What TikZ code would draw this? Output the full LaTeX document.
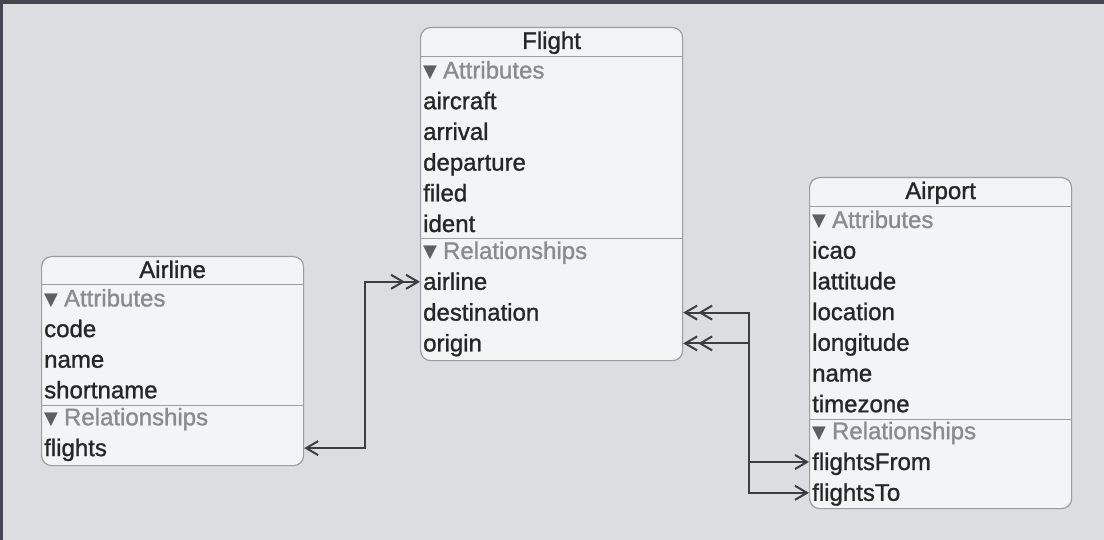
\documentclass[tikz,border=0pt]{standalone}
\usepackage{fontspec}
\setmainfont{Liberation Sans}[FakeBold=1.1]
\newfontfamily\symfont{DejaVu Sans}
\usetikzlibrary{arrows.meta,positioning,calc}

\definecolor{canvas}{HTML}{DCDDE1}
\definecolor{frame}{HTML}{43464E}
\definecolor{boxfill}{HTML}{F3F4F6}
\definecolor{boxline}{HTML}{9C9DA1}
\definecolor{ink}{HTML}{262626}
\definecolor{secgray}{HTML}{8A8B8E}
\definecolor{trigray}{HTML}{5E5F63}
\definecolor{wire}{HTML}{3C3D40}

\newcommand{\tri}{{\color{trigray}\symfont\fontsize{18}{18}\selectfont\raisebox{1pt}{▼}}\hspace{6pt}}

\begin{document}
\begin{tikzpicture}[
  x=1pt, y=-1pt,
  font=\fontsize{24}{28}\selectfont,
  >={Straight Barb[length=12pt,width=14pt]},
  entity/.style={
    draw=boxline,
    line width=1.2pt,
    fill=boxfill,
    rounded corners=10pt,
    anchor=north west,
    minimum width=262pt,
    inner sep=0pt
  },
  title/.style={text=ink, inner sep=0pt, text height=19pt, text depth=3pt},
  item/.style={anchor=west, inner sep=0pt, text=ink, text height=19pt, text depth=3pt},
  section/.style={item, text=secgray},
  sep/.style={draw=boxline, line width=1pt},
  link/.style={draw=wire, line width=2pt}
]

% canvas
\fill[canvas] (0,0) rectangle (1104,540);
\useasboundingbox (0,0) rectangle (1104,540);
\fill[frame] (0,0) rectangle (1104,4);
\fill[frame] (0,0) rectangle (3,540);

% Flight
\node[entity, minimum height=333pt] (flight) at (420,27) {};
\node[title] (fltitle) at ($(flight.north)+(0,14)$) {Flight};
\draw[sep] ($(flight.north west)+(0,30)$) -- ($(flight.north east)+(0,30)$);
\node[section] (fl-attr) at ($(flight.north west)+(3,43.5)$) {\tri Attributes};
\foreach \t [count=\i] in {aircraft,arrival,departure,filed,ident}
  \node[item] (fl-\t) at ($(fl-attr.west)+(0,\i*30.7)$) {\t};
\draw[sep] ($(flight.west |- fl-ident)+(0,15)$) -- ($(flight.east |- fl-ident)+(0,15)$);
\node[section] (fl-rel) at ($(fl-ident.west)+(0,27)$) {\tri Relationships};
\foreach \t [count=\i] in {airline,destination,origin}
  \node[item] (fl-\t) at ($(fl-rel.west)+(0,\i*30.8)$) {\t};

% Airline
\node[entity, minimum height=209pt] (airline) at (41,256) {};
\node[title] (altitle) at ($(airline.north)+(0,14)$) {Airline};
\draw[sep] ($(airline.north west)+(0,29)$) -- ($(airline.north east)+(0,29)$);
\node[section] (al-attr) at ($(airline.north west)+(3,42.5)$) {\tri Attributes};
\foreach \t [count=\i] in {code,name,shortname}
  \node[item] (al-\t) at ($(al-attr.west)+(0,\i*30.6)$) {\t};
\draw[sep] ($(airline.west |- al-shortname)+(0,15)$) -- ($(airline.east |- al-shortname)+(0,15)$);
\node[section] (al-rel) at ($(al-shortname.west)+(0,27)$) {\tri Relationships};
\node[item] (al-flights) at ($(al-rel.west)+(0,30.8)$) {flights};

% Airport
\node[entity, minimum height=331pt] (airport) at (809,177) {};
\node[title] (aptitle) at ($(airport.north)+(0,14)$) {Airport};
\draw[sep] ($(airport.north west)+(0,29.5)$) -- ($(airport.north east)+(0,29.5)$);
\node[section] (ap-attr) at ($(airport.north west)+(3,43)$) {\tri Attributes};
\foreach \t [count=\i] in {icao,lattitude,location,longitude,name,timezone}
  \node[item] (ap-\t) at ($(ap-attr.west)+(0,\i*30.7)$) {\t};
\draw[sep] ($(airport.west |- ap-timezone)+(0,15)$) -- ($(airport.east |- ap-timezone)+(0,15)$);
\node[section] (ap-rel) at ($(ap-timezone.west)+(0,27)$) {\tri Relationships};
\foreach \t [count=\i] in {flightsFrom,flightsTo}
  \node[item] (ap-\t) at ($(ap-rel.west)+(0,\i*30.8)$) {\t};

% relationships
\draw[link, <->>] (airline.east |- al-flights) -- ++(61,0) |- (flight.west |- fl-airline);
\draw[link, <<->] (flight.east |- fl-destination) -- ++(66,0) |- (airport.west |- ap-flightsTo);
\draw[link, <<->] (flight.east |- fl-origin) -- ++(66,0) |- (airport.west |- ap-flightsFrom);

\end{tikzpicture}
\end{document}
